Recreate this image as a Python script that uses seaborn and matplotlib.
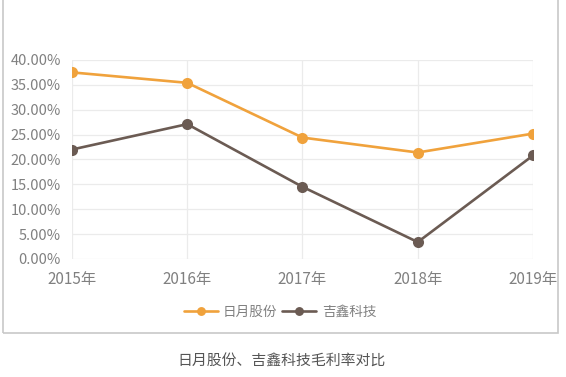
import pandas as pd
import matplotlib.pyplot as plt
import seaborn as sns
from matplotlib.patches import Rectangle
from matplotlib.ticker import FuncFormatter

years = ['2015年', '2016年', '2017年', '2018年', '2019年']
riyue = [37.5, 35.4, 24.4, 21.4, 25.2]
jixin = [22.0, 27.1, 14.5, 3.4, 20.8]
series_names = ['日月股份', '吉鑫科技']
colors = ['#F0A23C', '#6B5B53']

df = pd.DataFrame({
    'year': years * 2,
    'rate': riyue + jixin,
    'company': [series_names[0]] * 5 + [series_names[1]] * 5,
})

sns.set_style('white')
plt.rcParams['font.family'] = ['Noto Sans CJK SC', 'DejaVu Sans']

fig = plt.figure(figsize=(5.66, 3.77), dpi=100)
ax = fig.add_axes([0.1272, 0.313, 0.8145, 0.528])

sns.lineplot(data=df, x='year', y='rate', hue='company', palette=colors,
             marker='o', markersize=8, markeredgewidth=0, linewidth=1.9,
             sort=False, ax=ax)

ax.set_xlim(0, 4)
ax.set_ylim(0, 40)
ax.set_yticks(range(0, 41, 5))
ax.yaxis.set_major_formatter(FuncFormatter(lambda v, p: f'{v:.2f}%'))
ax.grid(True, color='#ebebeb', linewidth=0.9)
ax.set_axisbelow(True)
for s in ax.spines.values():
    s.set_visible(False)
ax.set_xlabel('')
ax.set_ylabel('')
ax.tick_params(axis='both', length=0, labelsize=10.5, labelcolor='#808080')
ax.tick_params(axis='x', labelsize=11, pad=9)
ax.tick_params(axis='y', pad=8)

# legend sits below the axes, centred in the bordered area
handles, labels = ax.get_legend_handles_labels()
leg = ax.legend(handles, labels, loc='center',
                bbox_to_anchor=(280 / 566, 1 - 312 / 377),
                bbox_transform=fig.transFigure,
                ncol=2, frameon=False, fontsize=9.8, labelcolor='#808080',
                handlelength=2.5, handletextpad=0.4, columnspacing=0.35,
                markerscale=0.8)

fig.patches.append(Rectangle((3 / 566, 1 - 333 / 377), 555 / 566, 340 / 377,
                             transform=fig.transFigure, fill=False,
                             edgecolor='#c8c8c8', linewidth=1.2))

fig.text(282 / 566, 1 - 362 / 377, '日月股份、吉鑫科技毛利率对比',
         ha='center', va='center', fontsize=10.7, color='#555555')

fig.savefig('out.png', dpi=100)
